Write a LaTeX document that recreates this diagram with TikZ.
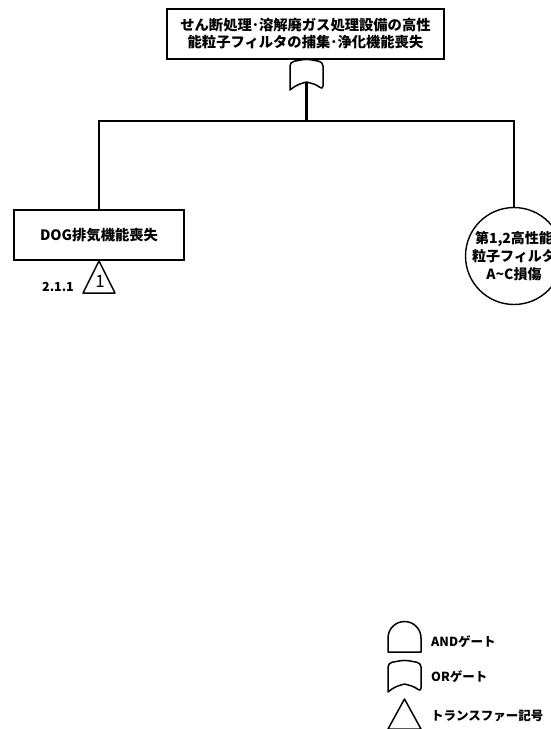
\documentclass[tikz,border=0pt]{standalone}
\usepackage{fontspec}
\setmainfont{Noto Sans CJK JP}
\begin{document}
\begin{tikzpicture}[x=1pt,y=-1pt,
  box/.style={draw, line width=1.6pt, fill=white, align=center, inner sep=2pt,
    font=\fontsize{14.3}{17}\selectfont\bfseries},
  evt/.style={draw, circle, line width=1.4pt, fill=white, align=center, inner sep=0pt,
    minimum size=90pt, font=\fontsize{14}{18}\selectfont\bfseries},
  conn/.style={line width=2.6pt},
  gateline/.style={line width=1.5pt, line join=round},
  lbl/.style={anchor=west, inner sep=0pt, font=\fontsize{12.5}{14}\selectfont\bfseries},
  num/.style={inner sep=0pt, font=\fontsize{12.5}{13}\selectfont\bfseries}]
\useasboundingbox (0,0) rectangle (550,729);

% top event
\node[box, minimum width=277pt, minimum height=50pt] (top) at (305.5,34)
  {せん断処理･溶解廃ガス処理設備の高性\\能粒子フィルタの捕集･浄化機能喪失};

% OR gate under top event
\draw[gateline, rounded corners=4pt, fill=white]
  (290,90) -- (290,62) -- (306.5,59) -- (323,62) -- (323,90)
  [sharp corners] .. controls (316,84) and (310,83) .. (306.5,82)
  .. controls (303,83) and (297,84) .. (290,90) -- cycle;
\coordinate (gb) at (306.5,83);
\coordinate (hl) at (306.5,121);

% basic events
\node[box, minimum width=170pt, minimum height=50pt] (dog) at (99,235) {DOG排気機能喪失};
\node[evt] (flt) at (514,256) {第1,2高性能\\粒子フィルタ\\A\textasciitilde C損傷};

% connectors
\draw[conn] (gb) -- (hl);
\draw[conn] (hl) -| (dog.north);
\draw[conn] (hl) -| (flt.north);

% transfer symbol
\coordinate (tr) at (99,261);
\draw[gateline] (tr) -- (115,293) -- (83,293) -- cycle;
\node[inner sep=0pt, font=\fontsize{17}{17}\selectfont] (trn) at (100,281) {1};
\node[num, anchor=east] (trl) at (74,287) {2.1.1};

% legend
\draw[gateline] (388,652) -- (388,638) arc[start angle=180, end angle=360, radius=16.5] -- (421,652) -- cycle;
\node[lbl] (l1) at (431,642) {ANDゲート};
\draw[gateline, rounded corners=4pt]
  (388,692) -- (388,663) -- (404.5,660) -- (421,663) -- (421,692)
  [sharp corners] .. controls (414,686) and (408,685) .. (404.5,684)
  .. controls (401,685) and (395,686) .. (388,692) -- cycle;
\node[lbl] (l2) at (431,677) {ORゲート};
\draw[gateline] (404.5,699) -- (421,729) -- (388,729) -- cycle;
\node[lbl] (l3) at (431,716) {トランスファー記号};
\end{tikzpicture}
\end{document}
